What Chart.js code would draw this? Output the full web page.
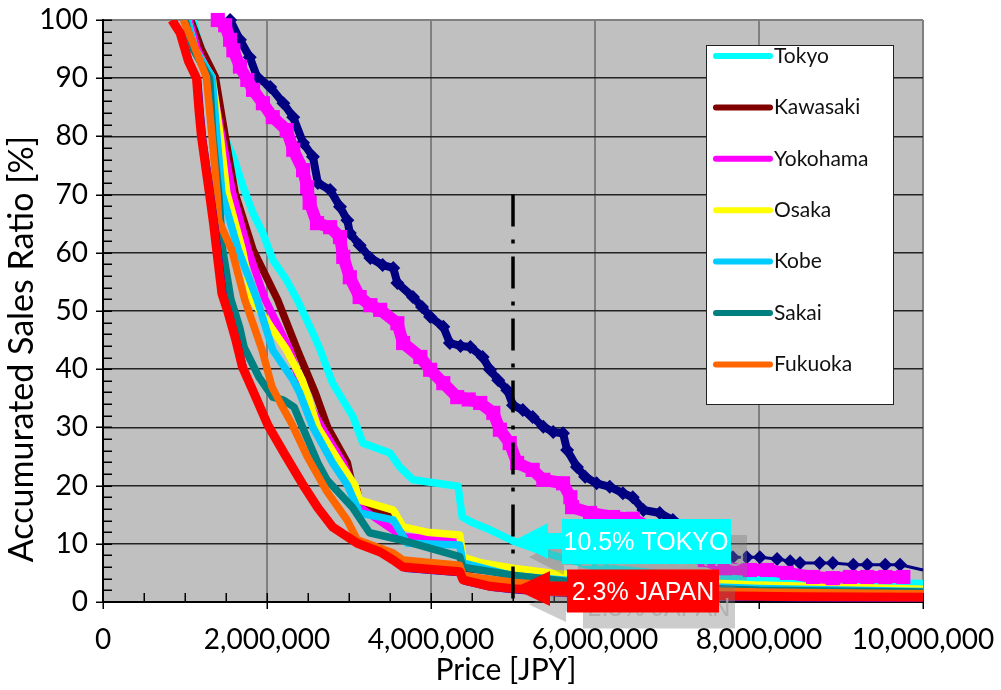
<!DOCTYPE html>
<html>
<head>
<meta charset="utf-8">
<title>Accumurated Sales Ratio</title>
<script src="https://cdn.jsdelivr.net/npm/chart.js@4.4.1/dist/chart.umd.min.js"></script>
<style>
  html, body { margin: 0; padding: 0; background: #ffffff; }
  #wrap { width: 1001px; height: 690px; position: relative; }
</style>
</head>
<body>
<div id="wrap"><canvas id="chart" width="1001" height="690"></canvas></div>
<script>
// ---- Accumulated sales ratio [%] by price [JPY] ----
const tokyoPrice = [1100000,1150000,1270000,1390000,1460000,1590000,1710000,1830000,1950000,2070000,2240000,2370000,2560000,2650000,2800000,3050000,3170000,3500000,3620000,3780000,4330000,4380000,4510000,4720000,5000000,5500000,6000000,7000000,8000000,9000000,10000000];
const tokyoRatio = [100,97.1,91.9,86.3,80.6,76.5,71.3,66.8,63.4,58.8,55.3,51.9,46.2,43.3,37.6,31.8,27.3,25.6,23.2,21.0,19.9,14.6,13.6,12.4,10.5,8.0,6.0,4.6,3.8,3.4,3.2];

const kawasakiPrice = [1070000,1200000,1370000,1490000,1610000,1830000,2130000,2370000,2590000,2740000,2980000,3040000,3100000,3130000,3540000,3660000,4350000,4400000,5000000,6000000,7000000,8000000,10000000];
const kawasakiRatio = [100,95,90.2,80,70.3,60.5,51.9,43.3,35.9,30,23.9,20.1,19.2,16.3,15.3,11.0,10.3,5.8,5.0,3.8,3.0,2.5,1.9];

const yokohamaPrice = [1050000,1150000,1320000,1450000,1580000,1770000,1980000,2280000,2440000,2670000,2930000,3040000,3130000,3660000,4350000,4400000,5000000,6000000,7000000,8000000,10000000];
const yokohamaRatio = [100,95,90,80,70.3,60.5,51.9,43.3,35.9,30,23.9,20.1,16.3,11.2,10.7,6.2,5.4,4.1,3.2,2.6,2.0];

const osakaPrice = [1030000,1120000,1330000,1430000,1510000,1700000,1820000,2240000,2430000,2620000,2890000,3070000,3130000,3540000,3660000,3950000,4350000,4390000,4620000,5000000,5500000,6500000,8000000,10000000];
const osakaRatio = [100,95,90.2,80,70.3,60.5,51.9,43.3,38.1,30,23.9,20.1,17.5,15.8,12.9,12.0,11.5,7.7,6.7,5.8,4.9,3.9,2.9,2.2];

const kobePrice = [1030000,1120000,1330000,1390000,1450000,1650000,1880000,2070000,2320000,2400000,2560000,2800000,2980000,3130000,3540000,3710000,4350000,4390000,5000000,6000000,8000000,10000000];
const kobeRatio = [100,95,90.2,80,70.3,60.5,51.9,43.3,38.1,35.9,30,23.9,20.1,15.3,14.1,10.1,9.8,6.7,4.5,3.3,2.3,1.8];

const sakaiPrice = [1000000,1100000,1300000,1340000,1410000,1460000,1560000,1670000,1720000,1900000,2070000,2200000,2330000,2410000,2620000,2730000,3040000,3250000,3620000,4350000,4390000,5000000,6000000,8000000,10000000];
const sakaiRatio = [100,95,90,80,70.3,60.5,52,47,43.8,38.7,35.2,34.7,33.5,30.8,23.9,21,16.3,11.9,10.7,7.8,6.0,4.6,3.0,2.0,1.7];

const fukuokaPrice = [980000,1100000,1260000,1330000,1390000,1410000,1570000,1730000,1940000,2060000,2170000,2300000,2490000,2730000,2980000,3100000,3540000,3660000,4350000,4390000,5000000,6000000,8000000,10000000];
const fukuokaRatio = [100,96,90.2,80,70.3,65.6,60.5,51.9,43.3,37,34,30.7,25,19,14,10.7,8.4,7.2,6.3,4.5,3.4,2.3,1.7,1.4];

const japanPrice = [840000,940000,1040000,1140000,1170000,1200000,1250000,1300000,1350000,1390000,1450000,1520000,1620000,1700000,1850000,2010000,2220000,2440000,2620000,2800000,3100000,3380000,3540000,3660000,4350000,4390000,4720000,5000000,5570000,6670000,8500000,10000000];
const japanRatio = [100,97.8,93,90,84.5,80,75,70,64.8,60,53,50,45,40.4,35.6,30.4,25.3,20.1,16.2,12.9,10.1,8.6,7.2,6.0,5.2,3.8,2.7,2.3,1.7,1.2,0.9,0.8];

const bluePrice = [860000,970000,1070000,1170000,1200000,1230000,1280000,1330000,1380000,1420000,1480000,1550000,1650000,1730000,1880000,2040000,2250000,2470000,2650000,2830000,3130000,3410000,3570000,3690000,4370000,4410000,4740000,5020000,5600000,6700000,8500000,10000000];
const blueRatio = [100,97.4,92.6,89.6,84.1,79.6,74.6,69.6,64.4,59.6,52.6,49.6,44.6,40,35.2,30,24.9,19.7,15.8,12.5,9.7,8.2,6.8,5.6,4.8,3.4,2.3,1.9,1.3,0.8,0.5,0.4];

const navyPrice = [1550000,1670000,1790000,1880000,2040000,2200000,2320000,2440000,2560000,2620000,2770000,2890000,2980000,3010000,3130000,3260000,3410000,3540000,3590000,3780000,3890000,3990000,4150000,4230000,4360000,4480000,4630000,4720000,4820000,4930000,5000000,5120000,5240000,5370000,5490000,5610000,5660000,5780000,5880000,6020000,6180000,6340000,6460000,6590000,6790000,6950000,7160000,7340000,7520000,7680000,7850000,8010000,8220000,8380000,8500000,8740000,8900000,9150000,9320000,9540000,9720000,10000000];
const navyRatio = [100,96.6,93.6,90.2,88.5,85.7,83.3,78.9,76.5,72.0,70.8,67.9,65.6,63.4,61.3,59.1,57.9,57.4,54.8,52.4,50.7,49.0,47.3,44.5,44.0,43.8,42.1,39.9,38.1,36.4,33.8,33.0,31.8,30.1,29.2,29.0,26.1,23.2,21.5,20.4,19.8,18.7,18.0,15.8,15.3,14.1,12.4,10.7,8.9,7.7,7.7,7.7,7.4,7.0,6.7,6.7,6.7,6.4,6.4,6.4,6.4,5.5];

const squarePrice = [1400000,1490000,1550000,1590000,1670000,1760000,1830000,1950000,2070000,2240000,2320000,2440000,2490000,2520000,2610000,2770000,2890000,2930000,3010000,3130000,3260000,3380000,3590000,3660000,3870000,3990000,4150000,4320000,4460000,4600000,4760000,4840000,4960000,5050000,5240000,5370000,5610000,5700000,5720000,5940000,6220000,6460000,6730000,7040000,7340000,7590000,7890000,8100000,8340000,8660000,8900000,9110000,9320000,9540000,9760000];
const squareRatio = [100,99.1,96.6,94.8,92,89.7,88,85.7,83.3,81.1,77.7,74.2,71.3,68.6,65.1,64.4,62.7,59.3,55.8,52.4,51.0,50.2,47.9,44.5,42.1,39.9,37.6,35.2,34.8,34.2,32.5,29.6,27.3,23.9,22.7,21.0,20.4,18.0,16.3,15.3,14.6,14.3,12.4,9.8,7.2,5.8,5.5,5.5,5.0,4.3,4.1,4.3,4.3,4.3,4.3];

// reference price and the two ratios read at that price
const cutoffPrice = 5000000;
const cutoffSpan = [70, 0];
const tokyoAtCutoff = 10.5;
const japanAtCutoff = 2.3;
const tokyoCalloutText = '10.5% TOKYO';
const japanCalloutText = '2.3% JAPAN';

// axis ticks
const priceMax = 10000000, priceStep = 2000000, priceMinorStep = 500000;
const ratioMax = 100, ratioStep = 10, ratioMinorStep = 2;
const legendNames = ['Tokyo', 'Kawasaki', 'Yokohama', 'Osaka', 'Kobe', 'Sakai', 'Fukuoka'];

const toPoints = (px, ry) => px.map((p, i) => ({ x: p, y: ry[i] }));

function lineSet(label, px, ry, color, width) {
  return {
    label, data: toPoints(px, ry),
    borderColor: color, backgroundColor: color, borderWidth: width,
    pointRadius: 0, tension: 0, borderJoinStyle: 'round', borderCapStyle: 'butt'
  };
}

const datasets = [
  { label: 'cutoff', data: cutoffSpan.map(v => ({ x: cutoffPrice, y: v })),
    borderColor: '#000', borderWidth: 3.5, borderDash: [32, 13, 4, 13], pointRadius: 0, tension: 0, clip: false },
  { label: 'squares', data: toPoints(squarePrice, squareRatio),
    borderColor: '#ff00ff', backgroundColor: '#ff00ff', borderWidth: 12, tension: 0, borderJoinStyle: 'round',
    pointStyle: 'rect', pointRadius: 10, pointBorderWidth: 0, pointBackgroundColor: '#ff00ff', clip: false },
  { label: 'diamonds', data: toPoints(navyPrice, navyRatio),
    borderColor: '#000080', backgroundColor: '#000080', borderWidth: 8, tension: 0, borderJoinStyle: 'round',
    segment: { borderWidth: c => c.p0.parsed.x >= 7600000 ? 3 : 8 },
    pointStyle: 'rectRot', pointRadius: c => c.dataIndex === navyPrice.length - 1 ? 0 : 7,
    pointBorderWidth: 0, pointBackgroundColor: '#000080', clip: false },
  lineSet('Japan', japanPrice, japanRatio, '#ff0000', 9),
  lineSet('All', bluePrice, blueRatio, '#0000ff', 5),
  lineSet('Fukuoka', fukuokaPrice, fukuokaRatio, '#ff6600', 7.5),
  lineSet('Sakai', sakaiPrice, sakaiRatio, '#008080', 7.5),
  lineSet('Kobe', kobePrice, kobeRatio, '#00ccff', 7.5),
  lineSet('Osaka', osakaPrice, osakaRatio, '#ffff00', 7.5),
  lineSet('Yokohama', yokohamaPrice, yokohamaRatio, '#ff00ff', 7.5),
  lineSet('Kawasaki', kawasakiPrice, kawasakiRatio, '#800000', 7.5),
  lineSet('Tokyo', tokyoPrice, tokyoRatio, '#00ffff', 7.5)
];

const LABEL_FONT = 'Lato';

function calloutPath(ctx, tx, ty, s) {
  ctx.beginPath();
  ctx.moveTo(tx, ty);
  ctx.lineTo(tx + s.head, ty - s.headHalf);
  ctx.lineTo(tx + s.head, ty - s.shaftHalf);
  ctx.lineTo(tx + s.head + s.shaft, ty - s.shaftHalf);
  ctx.lineTo(tx + s.head + s.shaft, ty + s.boxUp);
  ctx.lineTo(tx + s.head + s.shaft + s.boxW, ty + s.boxUp);
  ctx.lineTo(tx + s.head + s.shaft + s.boxW, ty + s.boxDown);
  ctx.lineTo(tx + s.head + s.shaft, ty + s.boxDown);
  ctx.lineTo(tx + s.head + s.shaft, ty + s.shaftHalf);
  ctx.lineTo(tx + s.head, ty + s.shaftHalf);
  ctx.lineTo(tx + s.head, ty + s.headHalf);
  ctx.closePath();
}

function drawCallout(ctx, tx, ty, s, fill, textColor) {
  calloutPath(ctx, tx, ty, s);
  ctx.fillStyle = fill;
  ctx.fill();
  ctx.font = '25px "Liberation Sans", Arial, sans-serif';
  ctx.textAlign = 'center';
  ctx.textBaseline = 'middle';
  ctx.fillStyle = textColor;
  ctx.fillText(s.text, tx + s.textDx, ty + s.textDy);
}

const decor = {
  id: 'decor',
  beforeDraw(chart) {
    const { ctx, chartArea: a } = chart;
    ctx.save();
    ctx.fillStyle = '#c0c0c0';
    ctx.fillRect(a.left, a.top, a.right - a.left, a.bottom - a.top);
    ctx.restore();
  },
  beforeDatasetsDraw(chart) {
    const { ctx, chartArea: a, scales: { x, y } } = chart;
    ctx.save();
    ctx.strokeStyle = '#000';
    ctx.lineWidth = 1.5;
    ctx.beginPath();
    for (let v = 0; v <= ratioMax; v += ratioMinorStep) {
      const py = Math.round(y.getPixelForValue(v)) + 0.25;
      const major = v % ratioStep === 0;
      ctx.moveTo(major ? a.left - 7 : a.left, py);
      ctx.lineTo(a.left + 9, py);
    }
    for (let v = 0; v <= priceMax; v += priceMinorStep) {
      const px = Math.round(x.getPixelForValue(v)) + 0.25;
      const major = v % priceStep === 0;
      ctx.moveTo(px, a.bottom - 9);
      ctx.lineTo(px, major ? a.bottom + 7 : a.bottom);
    }
    ctx.stroke();
    ctx.restore();
  },
  beforeDatasetDraw(chart, args) {
    if (args.index !== 0) return;
    const { ctx, scales: { x, y } } = chart;
    const tx = x.getPixelForValue(cutoffPrice);
    const tokyoY = y.getPixelForValue(tokyoAtCutoff);
    const japanY = y.getPixelForValue(japanAtCutoff);
    const tokyoShape = { head: 35, headHalf: 18, shaft: 14, shaftHalf: 8, boxW: 169, boxUp: -22, boxDown: 23,
      text: tokyoCalloutText, textDx: 133, textDy: 2 };
    const japanShape = { head: 37, headHalf: 17.5, shaft: 17, shaftHalf: 7, boxW: 152, boxUp: -19, boxDown: 24,
      text: japanCalloutText, textDx: 130, textDy: 4 };
    ctx.save();
    // soft drop shadows
    const shade = 'rgba(120,120,120,0.38)', shadeText = 'rgba(170,170,170,0.8)';
    drawCallout(ctx, tx + 16, tokyoY + 16, tokyoShape, shade, shadeText);
    drawCallout(ctx, tx + 16, japanY + 16, japanShape, shade, shadeText);
    drawCallout(ctx, tx, tokyoY, tokyoShape, '#00ffff', '#ffffff');
    drawCallout(ctx, tx, japanY, japanShape, '#ff0000', '#ffffff');
    ctx.restore();
  },
  afterDraw(chart) {
    const { ctx } = chart;
    ctx.save();
    // axis titles
    ctx.fillStyle = '#000';
    ctx.textAlign = 'center';
    ctx.textBaseline = 'middle';
    ctx.font = '30px ' + LABEL_FONT;
    ctx.fillText('Price [JPY]', 506, 670);
    ctx.save();
    ctx.translate(22, 349);
    ctx.rotate(-Math.PI / 2);
    ctx.font = '34px ' + LABEL_FONT;
    ctx.fillText('Accumurated Sales Ratio [%]', 0, 0);
    ctx.restore();

    // legend box
    const lx = 706.5, ly = 45.5, lw = 187, lh = 359;
    ctx.fillStyle = '#ffffff';
    ctx.fillRect(lx, ly, lw, lh);
    ctx.strokeStyle = '#222';
    ctx.lineWidth = 1;
    ctx.strokeRect(lx, ly, lw, lh);
    ctx.font = '21px ' + LABEL_FONT;
    ctx.textAlign = 'left';
    ctx.textBaseline = 'middle';
    legendNames.forEach((name, i) => {
      const ds = chart.data.datasets.find(d => d.label === name);
      const cy = 56 + i * 51.4;
      ctx.strokeStyle = ds.borderColor;
      ctx.lineWidth = 6;
      ctx.lineCap = 'round';
      ctx.beginPath();
      ctx.moveTo(716, cy);
      ctx.lineTo(770, cy);
      ctx.stroke();
      ctx.fillStyle = '#111';
      ctx.fillText(name, 774, cy);
    });
    ctx.restore();
  }
};

// keep the plot rectangle fixed; tick labels may overhang into the margins
function fixPadding(s) {
  s.paddingTop = 0; s.paddingBottom = 0; s.paddingLeft = 0; s.paddingRight = 0;
}

new Chart(document.getElementById('chart'), {
  type: 'line',
  data: { datasets },
  options: {
    responsive: false,
    animation: false,
    devicePixelRatio: 1,
    events: [],
    layout: { padding: { top: 20, right: 78, bottom: 0, left: 0 } },
    plugins: { legend: { display: false }, tooltip: { enabled: false } },
    scales: {
      x: {
        type: 'linear', min: 0, max: priceMax,
        afterFit: s => { s.height = 88; fixPadding(s); },
        ticks: { stepSize: priceStep, autoSkip: false, maxRotation: 0, padding: 21, color: '#000',
          font: { family: LABEL_FONT, size: 28 },
          callback: v => Number(v).toLocaleString('en-US') },
        grid: { drawTicks: false, lineWidth: 2,
          color: c => (c.tick && c.tick.value === 0) ? '#000' : '#808080' },
        border: { color: '#000', width: 2 }
      },
      y: {
        type: 'linear', min: 0, max: ratioMax,
        afterFit: s => { s.width = 103; fixPadding(s); },
        ticks: { stepSize: ratioStep, autoSkip: false, padding: 15, color: '#000',
          font: { family: LABEL_FONT, size: 28 } },
        grid: { drawTicks: false,
          lineWidth: c => (c.tick && (c.tick.value === ratioMax || c.tick.value === 0)) ? 2 : 1.5,
          color: c => !c.tick ? '#222' : c.tick.value === ratioMax ? '#808080' : c.tick.value === 0 ? '#000' : '#222' },
        border: { color: '#000', width: 2 }
      }
    }
  },
  plugins: [decor]
});
</script>
</body>
</html>
